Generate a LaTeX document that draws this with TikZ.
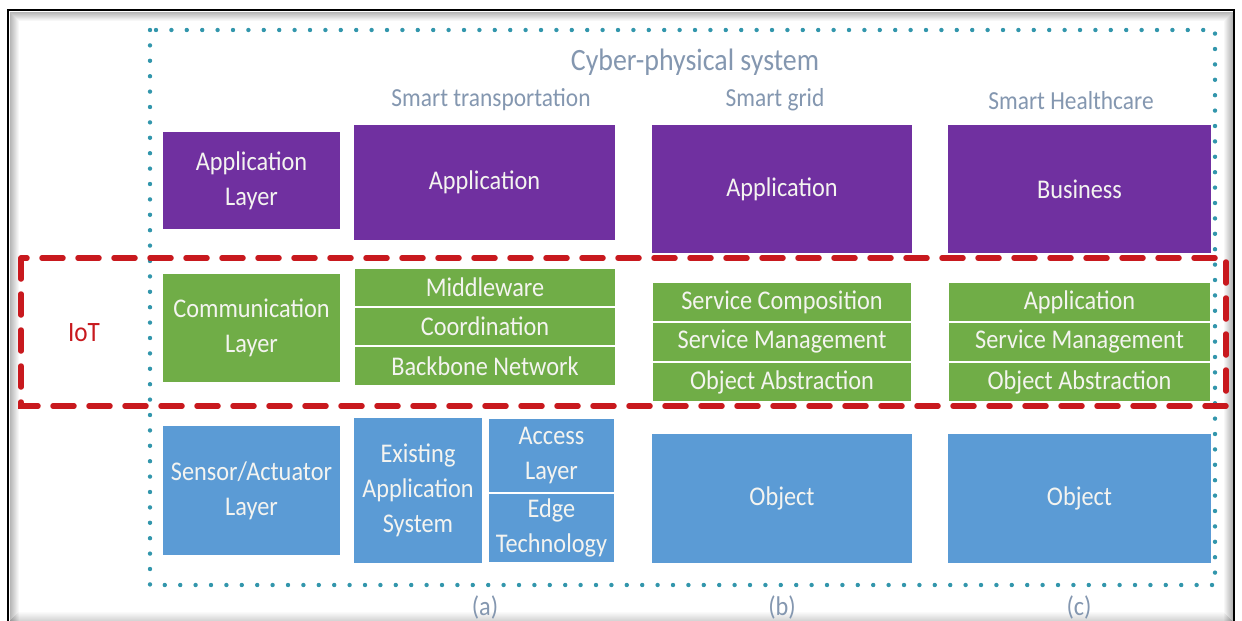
\documentclass[tikz,border=0pt]{standalone}
\usepackage{fontspec}
\setmainfont{Carlito}[FakeStretch=0.9]
\definecolor{layerpurple}{RGB}{112,48,160}
\definecolor{layergreen}{RGB}{112,173,71}
\definecolor{layerblue}{RGB}{91,155,213}
\definecolor{captiontext}{RGB}{132,151,176}
\definecolor{iotred}{RGB}{200,25,30}
\definecolor{cpsteal}{RGB}{50,150,172}
\definecolor{boxtext}{RGB}{244,244,240}
\begin{document}
\begin{tikzpicture}[x=1pt,y=-1pt,
  layerbox/.style={rectangle, inner sep=0pt, outer sep=0pt, text=boxtext,
    align=center, font=\fontsize{27}{35}\selectfont},
  cell/.style={layerbox, draw=white, line width=1.3pt},
  caption/.style={text=captiontext, font=\fontsize{26}{30}\selectfont, inner sep=0pt},
  subcaption/.style={text=captiontext, font=\fontsize{27}{30}\selectfont, inner sep=0pt},
  cpsframe/.style={draw=cpsteal, line width=4.4pt, line cap=round, dash pattern=on 0pt off 15.4pt},
  iotframe/.style={draw=iotred, line width=5.5pt, line cap=round, dash pattern=on 21pt off 15pt}]

\useasboundingbox (0,0) rectangle (1242,621);
\fill[white] (0,0) rectangle (1242,621);

% picture frame with a soft inner shadow
\foreach \i in {1,...,9}{
  \draw[black, opacity={0.32*(1-\i/10)}, line width=1pt]
    (9+\i,621) -- (9+\i,11+\i) -- (1233-\i,11+\i) -- (1233-\i,621);
  \draw[black, opacity={0.18*(1-\i/10)}, line width=1pt]
    (9+\i,621.5-\i) -- (1233-\i,621.5-\i);
}
\draw[black, line width=2.6pt] (8,621) -- (8,10) -- (1234,10) -- (1234,621);

% cyber-physical system boundary
\coordinate (cpsNW) at (150,30);
\coordinate (cpsSE) at (1215,585);
\draw[cpsframe] (cpsNW) rectangle (cpsSE);

% captions
\node[caption, font=\fontsize{31}{34}\selectfont] (cps) at (695,62) {Cyber-physical system};
\node[caption] (capA) at (491,100) {Smart transportation};
\node[caption] (capB) at (775,100) {Smart grid};
\node[caption] (capC) at (1071,101) {Smart Healthcare};

% reference layers
\node[layerbox, fill=layerpurple, minimum width=177pt, minimum height=97pt] (appL) at (251.5,180.5) {Application\\Layer};
\node[layerbox, fill=layergreen, minimum width=177pt, minimum height=108pt] (comL) at (251.5,328) {Communication\\Layer};
\node[layerbox, fill=layerblue, minimum width=177pt, minimum height=129pt] (senL) at (251.5,490.5) {Sensor/Actuator\\Layer};

% (a) smart transportation
\node[layerbox, fill=layerpurple, minimum width=261pt, minimum height=115pt] (appA) at (484.5,182.5) {Application};
\node[cell, fill=layergreen, minimum width=262pt, minimum height=39pt] (midA) at (485,287.5) {Middleware};
\node[cell, fill=layergreen, minimum width=262pt, minimum height=39pt] (cooA) at (485,326.5) {Coordination};
\node[cell, fill=layergreen, minimum width=262pt, minimum height=40pt] (bbnA) at (485,366) {Backbone Network};
\node[layerbox, fill=layerblue, minimum width=128pt, minimum height=145pt] (exiA) at (418,490.5) {Existing\\Application\\System};
\node[cell, fill=layerblue, minimum width=127pt, minimum height=75pt] (accA) at (551.5,455.5) {Access\\Layer};
\node[cell, fill=layerblue, minimum width=127pt, minimum height=70pt] (edgA) at (551.5,528) {Edge\\Technology};

% (b) smart grid
\node[layerbox, fill=layerpurple, minimum width=260pt, minimum height=128pt] (appB) at (782,189) {Application};
\node[cell, fill=layergreen, minimum width=260pt, minimum height=40pt] (scoB) at (782,302) {Service Composition};
\node[cell, fill=layergreen, minimum width=260pt, minimum height=40pt] (smgB) at (782,342) {Service Management};
\node[cell, fill=layergreen, minimum width=260pt, minimum height=40pt] (oabB) at (782,382) {Object Abstraction};
\node[layerbox, fill=layerblue, minimum width=260pt, minimum height=129pt] (objB) at (782,498.5) {Object};

% (c) smart healthcare
\node[layerbox, fill=layerpurple, minimum width=263pt, minimum height=128pt] (appC) at (1079.5,189) {Business};
\node[cell, fill=layergreen, minimum width=263pt, minimum height=40pt] (aplC) at (1079.5,302) {Application};
\node[cell, fill=layergreen, minimum width=263pt, minimum height=40pt] (smgC) at (1079.5,342) {Service Management};
\node[cell, fill=layergreen, minimum width=263pt, minimum height=40pt] (oabC) at (1079.5,382) {Object Abstraction};
\node[layerbox, fill=layerblue, minimum width=263pt, minimum height=129pt] (objC) at (1079.5,498.5) {Object};

% IoT region
\coordinate (iotNW) at (21,258);
\coordinate (iotSE) at (1226,406);
\draw[iotframe] (iotNW) rectangle (iotSE);
\node[text=iotred, font=\fontsize{28}{30}\selectfont, inner sep=0pt] (iot) at (84,333) {IoT};

% column labels
\node[subcaption] (labA) at (485,607) {(a)};
\node[subcaption] (labB) at (782,607) {(b)};
\node[subcaption] (labC) at (1079,607) {(c)};
\end{tikzpicture}
\end{document}
